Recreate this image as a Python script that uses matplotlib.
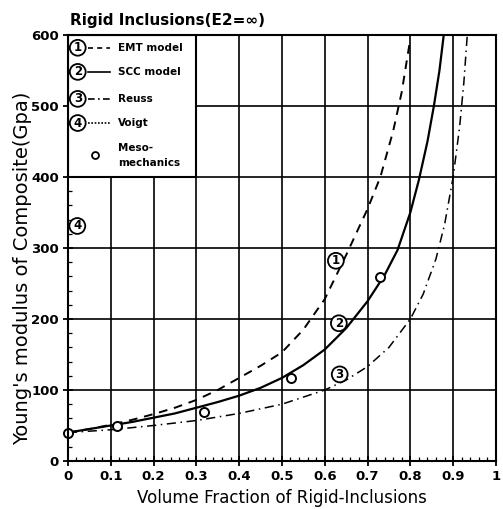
import matplotlib
matplotlib.use("Agg")
import matplotlib.pyplot as plt
from matplotlib.ticker import MultipleLocator, FixedLocator
from matplotlib.patches import Rectangle

# ---- data ----
c_emt = [0, 0.05, 0.1, 0.15, 0.2, 0.25, 0.3, 0.35, 0.4, 0.45, 0.5, 0.55, 0.6, 0.65, 0.7, 0.73, 0.76, 0.78, 0.8]
E_emt = [40, 45, 51, 58, 66, 75, 86, 100, 117, 134, 153, 185, 228, 290, 355, 400, 465, 520, 595]

c_scc = [0, 0.05, 0.1, 0.15, 0.2, 0.25, 0.3, 0.35, 0.4, 0.45, 0.5, 0.55, 0.6, 0.65, 0.7, 0.74, 0.77, 0.8, 0.82, 0.84, 0.855, 0.868, 0.878]
E_scc = [40, 45, 50, 55, 61, 67, 75, 83, 92, 103, 117, 135, 157, 187, 225, 262, 297, 350, 396, 450, 500, 550, 600]

c_reuss = [0, 0.1, 0.2, 0.3, 0.4, 0.5, 0.6, 0.65, 0.7, 0.75, 0.8, 0.83, 0.86, 0.88, 0.9, 0.915, 0.925, 0.933]
E_reuss = [40, 44, 50, 57, 67, 80, 100, 114, 133, 160, 200, 235, 285, 333, 400, 470, 533, 600]

c_voigt = [0, 0]
E_voigt = [40, 600]

c_meso = [0, 0.115, 0.318, 0.522, 0.73]
E_meso = [40, 49, 69, 117, 259]

x_ticks = [0, 0.1, 0.2, 0.3, 0.4, 0.5, 0.6, 0.7, 0.8, 0.9, 1]
x_tick_labels = ["0", "0.1", "0.2", "0.3", "0.4", "0.5", "0.6", "0.7", "0.8", "0.9", "1"]
y_ticks = [0, 100, 200, 300, 400, 500, 600]
y_tick_labels = ["0", "100", "200", "300", "400", "500", "600"]

legend_labels = ["EMT model", "SCC model", "Reuss", "Voigt"]
curve_tags = ["1", "2", "3", "4"]
tag_pos = [(0.626, 282), (0.633, 194), (0.635, 122), (0.022, 331)]

plt.rcParams['font.family'] = ['DejaVu Sans']

fig = plt.figure(figsize=(5.03, 5.09), dpi=100)
ax = fig.add_axes([0.135, 0.0943, 0.851, 0.837])
ax.set_xlim(0, 1)
ax.set_ylim(0, 600)

# grid
for xv in x_ticks[1:-1]:
    ax.axvline(xv, color='black', lw=1.2, zorder=1)
for yv in y_ticks[1:-1]:
    ax.axhline(yv, color='black', lw=1.2, zorder=1)

ax.plot(c_emt, E_emt, color='black', lw=1.4, ls=(0, (4.5, 3.5)), zorder=3)
ax.plot(c_scc, E_scc, color='black', lw=1.6, ls='-', zorder=3)
ax.plot(c_reuss, E_reuss, color='black', lw=1.1, ls=(0, (6, 3, 1, 3)), zorder=3)
ax.plot(c_voigt, E_voigt, color='black', lw=1.2, ls=(0, (1, 1.5)), zorder=3, clip_on=False)
ax.plot(c_meso, E_meso, ls='none', marker='o', ms=6.5, mfc='white', mec='black', mew=1.4,
        zorder=5, clip_on=False)

def circ_tag(x, y, s, fs=8.5):
    ax.text(x, y, s, ha='center', va='center', fontsize=fs, fontweight='bold', zorder=7,
            bbox=dict(boxstyle='circle,pad=0.12', fc='white', ec='black', lw=1.3))

for t, (x, y) in zip(curve_tags, tag_pos):
    circ_tag(x, y, t)

# legend box
ax.add_patch(Rectangle((0, 400), 0.3, 200, fc='white', ec='black', lw=1.5, zorder=6))
rows_y = [582, 548, 510, 476]
styles = [(0, (3, 2.5)), '-', (0, (4, 2, 1, 2)), (0, (1, 1))]
for y, t, lab, st in zip(rows_y, curve_tags, legend_labels, styles):
    circ_tag(0.023, y, t)
    ax.plot([0.047, 0.098], [y, y], color='black', lw=1.2, ls=st, zorder=7)
    ax.text(0.117, y, lab, ha='left', va='center', fontsize=7.5, fontweight='bold', zorder=7)
ax.plot([0.063], [431], ls='none', marker='o', ms=5, mfc='white', mec='black', mew=1.3, zorder=7)
ax.text(0.117, 441, "Meso-", ha='left', va='center', fontsize=7.5, fontweight='bold', zorder=7)
ax.text(0.117, 420, "mechanics", ha='left', va='center', fontsize=7.5, fontweight='bold', zorder=7)

# ticks
ax.xaxis.set_major_locator(FixedLocator(x_ticks))
ax.set_xticklabels(x_tick_labels)
ax.yaxis.set_major_locator(FixedLocator(y_ticks))
ax.set_yticklabels(y_tick_labels)
ax.xaxis.set_minor_locator(MultipleLocator(0.02))
ax.yaxis.set_minor_locator(MultipleLocator(20))
ax.tick_params(which='major', direction='inout', length=7, width=1.3, labelsize=9.5, pad=3)
ax.tick_params(which='minor', direction='in', length=3, width=0.9)
for lab in ax.get_xticklabels() + ax.get_yticklabels():
    lab.set_fontweight('bold')
for sp in ax.spines.values():
    sp.set_linewidth(1.5)
    sp.set_zorder(8)

ax.set_xlabel("Volume Fraction of Rigid-Inclusions", fontsize=12, labelpad=4)
ax.set_ylabel("Young's modulus of Composite(Gpa)", fontsize=14)
ax.yaxis.set_label_coords(-0.083, 0.453)
fig.text(70 / 503, 1 - 20 / 509, "Rigid Inclusions(E2=\u221e)", fontsize=11, fontweight='bold',
         ha='left', va='center')

fig.savefig("out.png", dpi=100)
